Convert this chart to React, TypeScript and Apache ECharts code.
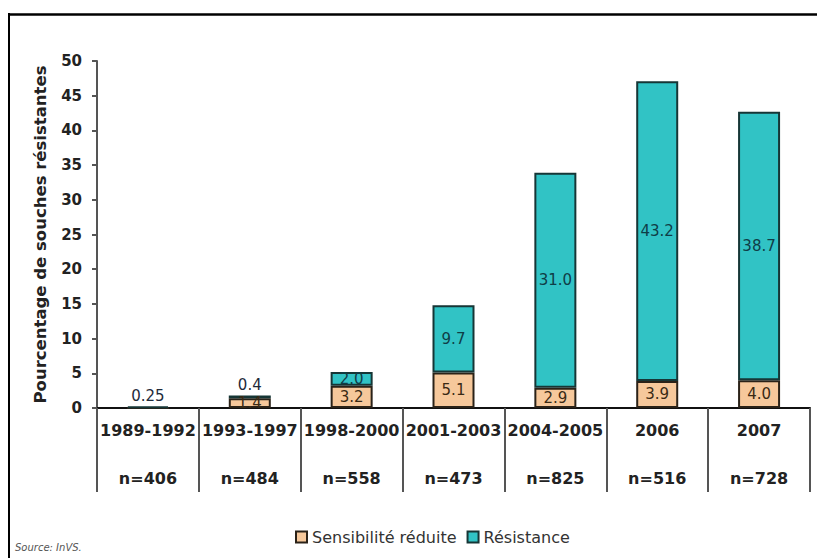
import React, { useEffect, useRef } from "react";
import * as echarts from "echarts";

const periods = ["1989-1992", "1993-1997", "1998-2000", "2001-2003", "2004-2005", "2006", "2007"];
const counts = ["n=406", "n=484", "n=558", "n=473", "n=825", "n=516", "n=728"];
const sensibiliteReduite = [0, 1.4, 3.2, 5.1, 2.9, 3.9, 4.0];
const resistance = [0.25, 0.4, 2.0, 9.7, 31.0, 43.2, 38.7];
const topLabelIdx = [0, 1];
const yTicks = { min: 0, max: 50, interval: 5 };

const fmt = (v: number) => {
  if (!v) return "";
  const t = v * 10;
  return Math.abs(t - Math.round(t)) < 1e-9 ? v.toFixed(1) : String(v);
};

export default function App() {
  const ref = useRef<HTMLDivElement>(null);
  useEffect(() => {
    if (!ref.current) return;
    const chart = echarts.init(ref.current, null, { renderer: "svg" });
    const font = "DejaVu Sans";
    chart.setOption({
      animation: false,
      backgroundColor: "#ffffff",
      grid: { left: 97, right: 7, top: 61, bottom: 150 },
      legend: {
        left: 290,
        top: 524,
        itemWidth: 11,
        itemHeight: 11,
        itemGap: 10,
        icon: "rect",
        textStyle: { fontFamily: font, fontSize: 16, color: "#333" },
        data: ["Sensibilité réduite", "Résistance"],
      },
      xAxis: {
        type: "category",
        data: periods,
        axisLine: { lineStyle: { color: "#111", width: 2 } },
        axisTick: { show: true, length: 84, lineStyle: { color: "#555", width: 2 } },
        axisLabel: {
          margin: 2,
          interval: 0,
          formatter: (val: string, i: number) => `{a|${val}}\n{b|${counts[i]}}`,
          rich: {
            a: { fontFamily: font, fontWeight: "bold", fontSize: 16, color: "#222", lineHeight: 40 },
            b: { fontFamily: font, fontWeight: "bold", fontSize: 16, color: "#222", lineHeight: 56 },
          },
        },
      },
      yAxis: {
        type: "value",
        min: yTicks.min,
        max: yTicks.max,
        interval: yTicks.interval,
        splitLine: { show: false },
        axisLine: { show: true, lineStyle: { color: "#555", width: 2 } },
        axisTick: { show: true, length: 5, lineStyle: { color: "#555", width: 2 } },
        axisLabel: { fontFamily: font, fontWeight: "bold", fontSize: 15, color: "#222", margin: 15 },
        name: "Pourcentage de souches résistantes",
        nameLocation: "middle",
        nameRotate: 90,
        nameGap: 48,
        nameTextStyle: { fontFamily: font, fontWeight: "bold", fontSize: 16.5, color: "#222" },
      },
      series: [
        {
          name: "Sensibilité réduite",
          type: "bar",
          stack: "t",
          barWidth: 42,
          data: sensibiliteReduite,
          itemStyle: { color: "#F6C89B", borderColor: "#2a2218", borderWidth: 2 },
          label: {
            show: true,
            position: "inside",
            fontFamily: font,
            fontSize: 15,
            color: "#3a2a14",
            formatter: (p: any) => fmt(p.value),
          },
        },
        {
          name: "Résistance",
          type: "bar",
          stack: "t",
          barWidth: 42,
          data: resistance.map((v, i) =>
            topLabelIdx.includes(i)
              ? { value: v, label: { position: "top", distance: 3, color: "#1e2a3a" } }
              : v
          ),
          itemStyle: { color: "#31C3C5", borderColor: "#163636", borderWidth: 2 },
          label: {
            show: true,
            position: "inside",
            fontFamily: font,
            fontSize: 15,
            color: "#0f3d47",
            formatter: (p: any) => fmt(p.value),
          },
        },
      ],
      graphic: [
        { type: "line", shape: { x1: 8, y1: 14.5, x2: 817, y2: 14.5 }, style: { stroke: "#000", lineWidth: 2.5 } },
        { type: "line", shape: { x1: 9, y1: 13, x2: 9, y2: 558 }, style: { stroke: "#000", lineWidth: 2 } },
        {
          type: "text",
          left: 15,
          top: 542,
          style: { text: "Source: InVS.", fontFamily: font, fontStyle: "italic", fontSize: 10, fill: "#555" },
        },
      ],
    });
    return () => chart.dispose();
  }, []);
  return <div ref={ref} style={{ position: "fixed", left: 0, top: 0, width: 817, height: 558 }} />;
}
